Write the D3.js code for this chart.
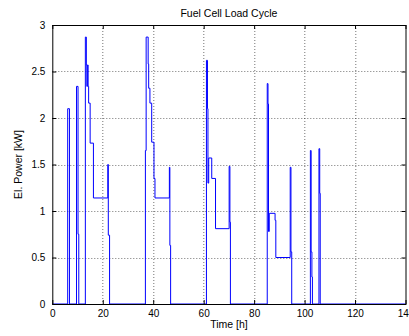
<!DOCTYPE html>
<html>
<head>
<meta charset="utf-8">
<script src="https://cdn.jsdelivr.net/npm/d3@7"></script>
<style>
  body { margin: 0; background: #fff; }
  text { font-family: "Liberation Sans", Arial, Helvetica, sans-serif; }
</style>
</head>
<body>
<svg id="chart"></svg>
<script>
// load cycle: time [h] and power [kW], one entry per vertex
const timeH = [
  0, 6.1, 6.1, 6.8, 6.8, 9.6, 9.6, 10.2, 10.2, 10.5, 10.5,
  13.1, 13.1, 13.5, 13.5, 13.7, 13.7, 13.9, 13.9, 14.2, 14.2, 14.4, 14.4, 15.0, 15.0, 16.3, 16.3, 22.0, 22.0, 22.2, 22.2, 22.7, 22.7,
  36.9, 36.9, 37.2, 37.2, 38.0, 38.0, 38.2, 38.2, 38.7, 38.7, 39.4, 39.4, 40.3, 40.3, 40.7, 40.7, 46.4, 46.4, 46.6, 46.6, 46.9, 46.9,
  61.1, 61.1, 61.5, 61.5, 61.7, 61.7, 62.0, 62.0, 63.2, 63.2, 64.7, 64.7, 70.1, 70.1, 70.4, 70.4, 70.6, 70.6,
  85.2, 85.2, 85.5, 85.5, 85.7, 85.7, 86.0, 86.0, 88.3, 88.3, 88.6, 88.6, 94.3, 94.3, 94.6, 94.6, 94.9, 94.9,
  102.3, 102.3, 102.6, 102.6, 102.9, 102.9, 103.1, 103.1,
  105.7, 105.7, 106.0, 106.0, 106.2, 106.2, 140
];
const powerKW = [
  0, 0, 2.10, 2.10, 0, 0, 2.34, 2.34, 0.75, 0.75, 0,
  0, 2.87, 2.87, 2.57, 2.57, 2.34, 2.34, 2.57, 2.57, 2.34, 2.34, 2.16, 2.16, 1.73, 1.73, 1.14, 1.14, 1.50, 1.50, 0.74, 0.74, 0,
  0, 1.65, 1.65, 2.87, 2.87, 2.58, 2.58, 2.32, 2.32, 2.16, 2.16, 1.74, 1.74, 1.35, 1.35, 1.14, 1.14, 1.47, 1.47, 0.63, 0.63, 0,
  0, 2.62, 2.62, 2.10, 2.10, 1.30, 1.30, 1.57, 1.57, 1.35, 1.35, 0.81, 0.81, 1.48, 1.48, 0.88, 0.88, 0,
  0, 2.37, 2.37, 2.15, 2.15, 0.78, 0.78, 0.975, 0.975, 0.90, 0.90, 0.50, 0.50, 1.47, 1.47, 0.56, 0.56, 0,
  0, 1.65, 1.65, 0.56, 0.56, 0.29, 0.29, 0,
  0, 1.67, 1.67, 1.19, 1.19, 0, 0
];
const xTicks = [0, 20, 40, 60, 80, 100, 120, 140];
const yTicks = [0, 0.5, 1, 1.5, 2, 2.5, 3];
const yTickLabels = ["0", "0.5", "1", "1.5", "2", "2.5", "3"];

const W = 409, H = 336;
const margin = { top: 25, right: 3.5, bottom: 32, left: 52.3 };
const width = W - margin.left - margin.right;
const height = H - margin.top - margin.bottom;

const svg = d3.select("#chart").attr("width", W).attr("height", H);
const g = svg.append("g").attr("transform", "translate(" + margin.left + "," + margin.top + ")");

const x = d3.scaleLinear().domain([0, 140]).range([0, width]);
const y = d3.scaleLinear().domain([0, 3]).range([height, 0]);

// dotted grid
g.append("g").selectAll("line").data(xTicks.slice(1, -1)).join("line")
  .attr("x1", d => Math.round(x(d)) + 0.5).attr("x2", d => Math.round(x(d)) + 0.5)
  .attr("y1", 0).attr("y2", height)
  .attr("stroke", "#000").attr("stroke-opacity", 0.55).attr("stroke-dasharray", "1,2");
g.append("g").selectAll("line").data(yTicks.slice(1, -1)).join("line")
  .attr("y1", d => Math.round(y(d)) + 0.5).attr("y2", d => Math.round(y(d)) + 0.5)
  .attr("x1", 0).attr("x2", width)
  .attr("stroke", "#000").attr("stroke-opacity", 0.55).attr("stroke-dasharray", "1,2");

// the trace
const line = d3.line().x(d => x(d[0])).y(d => y(d[1]));
g.append("path")
  .datum(timeH.map((t, i) => [t, powerKW[i]]))
  .attr("fill", "none")
  .attr("stroke", "#0000ff")
  .attr("stroke-width", 1)
  .attr("d", line);

// axes, matlab style: inward ticks, box
const tk = 4;
const xAxis = d3.axisBottom(x).tickValues(xTicks).tickSizeInner(-tk).tickSizeOuter(0).tickPadding(6);
const yAxis = d3.axisLeft(y).tickValues(yTicks).tickFormat((d, i) => yTickLabels[i]).tickSizeInner(-tk).tickSizeOuter(0).tickPadding(7);

const gx = g.append("g").attr("transform", "translate(0," + height + ")").call(xAxis);
const gy = g.append("g").call(yAxis);
g.append("g").call(d3.axisTop(x).tickValues(xTicks).tickSizeInner(-tk).tickSizeOuter(0).tickFormat(""));
g.append("g").attr("transform", "translate(" + width + ",0)")
  .call(d3.axisRight(y).tickValues(yTicks).tickSizeInner(-tk).tickSizeOuter(0).tickFormat(""));

g.selectAll(".domain").remove();
g.selectAll(".tick line").attr("stroke", "#000");
[gx, gy].forEach(a => a.selectAll("text")
  .style("font-size", "10px").attr("fill", "#000")
  .style("font-family", "'Liberation Sans', Arial, sans-serif"));

g.append("rect")
  .attr("x", 0.5).attr("y", 0.5)
  .attr("width", width).attr("height", height)
  .attr("fill", "none").attr("stroke", "#000");

// labels
svg.append("text")
  .attr("x", margin.left + width / 2).attr("y", 17)
  .attr("text-anchor", "middle").style("font-size", "10.5px")
  .text("Fuel Cell Load Cycle");

svg.append("text")
  .attr("x", margin.left + width / 2).attr("y", 328)
  .attr("text-anchor", "middle").style("font-size", "10.5px")
  .text("Time [h]");

svg.append("text")
  .attr("transform", "translate(22," + (margin.top + height / 2) + ") rotate(-90)")
  .attr("text-anchor", "middle").style("font-size", "10.5px")
  .text("El. Power [kW]");
</script>
</body>
</html>
